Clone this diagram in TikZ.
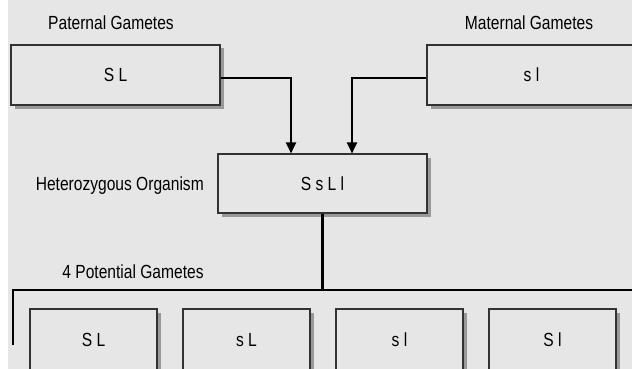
\documentclass[tikz,border=0pt]{standalone}
\usepackage{fontspec}
\setmainfont{Liberation Sans}[FakeStretch=0.82]
\usetikzlibrary{arrows.meta,shadows}

\newlength{\du}
\setlength{\du}{1pt}

\definecolor{panelgray}{rgb}{0.902, 0.902, 0.902}
\definecolor{edgegray}{rgb}{0.200, 0.200, 0.200}
\definecolor{shadowgray}{rgb}{0.600, 0.600, 0.600}

\tikzset{
  genebox/.style={draw=edgegray, line width=1.1\du, fill=panelgray,
    minimum width=209\du, minimum height=60\du, inner sep=0pt,
    drop shadow={shadow xshift=3.5\du, shadow yshift=-3.5\du, fill=shadowgray, opacity=1}},
  gamebox/.style={genebox, minimum width=127\du, minimum height=62\du},
  caption/.style={inner sep=0pt},
  link/.style={line width=2.2\du, black},
  feed/.style={link, -{Triangle[length=11pt,width=10pt]}}
}

\begin{document}
\begin{tikzpicture}[font=\fontsize{19}{22}\selectfont]
\pgftransformxscale{1.000000}
\pgftransformyscale{-1.000000}
\useasboundingbox (0\du,0\du) rectangle (632\du,369\du);
\clip (0\du,0\du) rectangle (632\du,369\du);
\fill[panelgray] (8\du,0\du) rectangle (632\du,369\du);
% parent gametes
\node[caption, anchor=base] (patlabel) at (111\du,30\du){Paternal Gametes};
\node[genebox] (pat) at (115.5\du,75\du){S L};
\node[caption, anchor=base] (matlabel) at (529\du,30\du){Maternal Gametes};
\node[genebox] (mat) at (531.5\du,75\du){s l};
% organism
\node[genebox, minimum height=59\du] (het) at (322.5\du,183.5\du){S s L l};
\node[caption, anchor=base east] (hetlabel) at (204\du,190\du){Heterozygous Organism};
\coordinate (patbend) at (291\du,78\du);
\coordinate (matbend) at (352\du,78\du);
\draw[feed] (pat.east |- patbend) -- (patbend) -- (patbend |- het.north);
\draw[feed] (mat.west |- matbend) -- (matbend) -- (matbend |- het.north);
% offspring gametes
\node[caption, anchor=base] (gamlabel) at (133\du,278\du){4 Potential Gametes};
\coordinate (fork) at (322.5\du,290\du);
\coordinate (forkleft) at (13\du,290\du);
\coordinate (forkend) at (13\du,345\du);
\coordinate (forkright) at (640\du,290\du);
\draw[link] (het.south) -- (fork);
\draw[link] (forkend) -- (forkleft) -- (forkright);
\foreach \name/\x/\txt in {g1/93.5/S L, g2/246.5/s L, g3/399.5/s l, g4/552.5/S l}
  \node[gamebox] (\name) at (\x\du,340\du){\txt};
\end{tikzpicture}
\end{document}
